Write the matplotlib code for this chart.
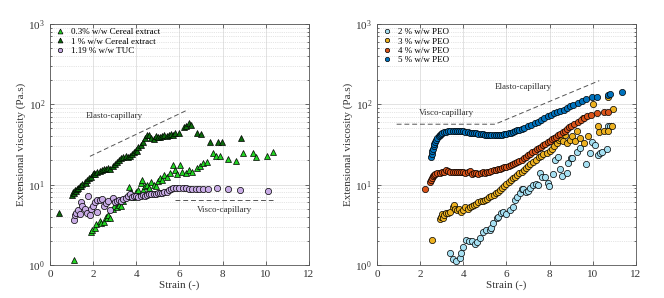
# coding: utf-8
import numpy as np
import matplotlib
matplotlib.use("Agg")
import matplotlib.pyplot as plt

plt.rcParams['font.family'] = ['Liberation Serif', 'DejaVu Serif']
plt.rcParams['mathtext.fontset'] = 'stix'

# ================= 数据 =================
# 左图: 0.3% w/w Cereal extract
cer03_x = [1.1, 1.9, 1.95, 2.1, 2.15, 2.3, 2.35, 2.5, 2.6, 2.65, 2.7, 2.8, 2.9, 2.95, 3.1, 3.2, 3.3,
           3.4, 3.5, 3.6, 3.65, 3.75, 3.85, 4.0, 4.1, 4.2, 4.25, 4.3, 4.4, 4.5, 4.6, 4.7, 4.8, 4.9,
           5.0, 5.1, 5.2, 5.3, 5.4, 5.55, 5.7, 5.8, 5.9, 6.02, 6.1, 6.3, 6.45, 6.56, 6.8, 6.95, 7.1,
           7.26, 7.57, 7.7, 7.88, 8.26, 8.62, 8.93, 9.4, 9.55, 10.06, 10.32]
cer03_y = [1.15, 2.6, 2.7, 2.9, 3.2, 3.5, 3.3, 3.4, 4.0, 3.8, 4.2, 3.9, 5.0, 5.4, 5.2, 5.6, 5.5,
           6.2, 7.0, 7.5, 9.3, 8.0, 7.0, 8.0, 8.5, 10.5, 11.4, 8.6, 9.5, 10.0, 9.0, 10.9, 10.0, 9.5,
           11.0, 12.0, 11.5, 13.0, 12.5, 14.0, 17.6, 15.0, 13.5, 17.6, 14.5, 14.0, 15.0, 14.5, 16.0, 17.0, 18.5,
           19.4, 24.5, 22.8, 22.5, 21.0, 19.7, 24.6, 25.0, 22.4, 22.8, 25.8]

# 左图: 1 % w/w Cereal extract
cer1_x = [0.4, 1.0, 1.05, 1.1, 1.15, 1.2, 1.25, 1.3, 1.4, 1.45, 1.5, 1.6, 1.65, 1.7, 1.8, 1.9, 2.0,
          2.05, 2.1, 2.2, 2.3, 2.4, 2.5, 2.6, 2.7, 2.8, 2.9, 3.0, 3.1, 3.2, 3.3, 3.4, 3.5, 3.6, 3.7,
          3.8, 3.9, 4.0, 4.05, 4.1, 4.2, 4.3, 4.4, 4.5, 4.6, 4.7, 4.8, 4.9, 5.0, 5.1, 5.2, 5.3, 5.4,
          5.5, 5.6, 5.7, 5.8, 6.0, 6.2, 6.3, 6.45, 6.55, 6.8, 7.0, 7.4, 7.8, 7.95, 8.85]
cer1_y = [4.5, 7.5, 8.0, 7.8, 8.5, 8.3, 8.8, 9.2, 9.7, 9.5, 10.3, 10.8, 10.6, 11.3, 12.0, 12.6, 13.5,
          13.9, 13.6, 14.2, 14.6, 15.0, 15.5, 15.8, 16.2, 15.8, 17.0, 18.0, 19.0, 20.0, 21.5, 22.0, 22.5, 22.0, 23.0,
          24.0, 25.5, 27.0, 26.0, 29.0, 31.0, 34.0, 38.0, 41.0, 42.0, 38.0, 37.0, 40.0, 39.0, 39.0, 40.0, 41.0, 40.0,
          41.0, 43.0, 42.0, 44.0, 44.0, 52.0, 53.0, 58.0, 55.0, 44.0, 43.0, 34.0, 34.0, 34.0, 38.0]

# 左图: 1.19 % w/w TUC
tuc_x = [1.1, 1.15, 1.2, 1.3, 1.4, 1.45, 1.5, 1.6, 1.7, 1.78, 1.85, 1.9, 2.0, 2.1, 2.16, 2.2, 2.3,
         2.4, 2.5, 2.6, 2.7, 2.8, 2.9, 3.0, 3.1, 3.2, 3.3, 3.4, 3.5, 3.6, 3.7, 3.8, 3.9, 4.0, 4.1,
         4.2, 4.3, 4.4, 4.5, 4.6, 4.7, 4.8, 4.9, 5.0, 5.1, 5.2, 5.3, 5.4, 5.5, 5.6, 5.7, 5.85, 6.0,
         6.15, 6.3, 6.45, 6.6, 6.75, 6.9, 7.1, 7.3, 7.72, 8.27, 8.8, 10.08]
tuc_y = [3.6, 4.2, 4.5, 4.8, 4.3, 6.1, 5.5, 5.0, 4.5, 7.2, 4.2, 5.0, 5.5, 6.0, 4.6, 6.5, 6.4,
         6.6, 5.5, 5.9, 6.2, 4.8, 6.8, 6.0, 6.3, 6.5, 6.2, 6.6, 6.8, 7.3, 7.6, 7.0, 7.2, 7.2, 7.0,
         7.3, 7.4, 7.3, 7.5, 7.6, 7.6, 7.7, 7.7, 7.8, 7.8, 7.9, 8.0, 8.2, 8.5, 8.8, 9.0, 9.1, 9.2,
         9.0, 9.0, 8.9, 8.9, 8.8, 8.8, 8.8, 8.9, 9.0, 8.8, 8.6, 8.3]

# 右图: 2 % w/w PEO
peo2_x = [3.38, 3.54, 3.66, 3.85, 3.87, 4.0, 4.12, 4.25, 4.39, 4.54, 4.65, 4.77, 4.93, 5.05, 5.24,
          5.3, 5.39, 5.55, 5.62, 5.75, 5.85, 6.0, 6.16, 6.3, 6.39, 6.5, 6.63, 6.7, 6.78, 6.9, 7.01,
          7.1, 7.24, 7.35, 7.48, 7.55, 7.63, 7.78, 7.94, 7.99, 8.17, 8.25, 8.4, 8.48, 8.56, 8.79,
          8.87, 8.99, 9.02, 9.25, 9.4, 9.68, 9.87, 9.95, 10.1, 10.26, 10.33, 10.41, 10.64, 10.72, 10.8]
peo2_y = [1.4, 1.18, 1.13, 1.21, 1.4, 1.69, 2.05, 2.0, 2.0, 1.8, 1.95, 2.15, 2.6, 2.75, 2.7,
          2.9, 3.3, 3.8, 4.0, 4.5, 4.6, 4.3, 4.8, 5.3, 6.4, 7.0, 7.8, 8.8, 8.8, 8.0, 8.4,
          9.0, 9.9, 10.2, 9.9, 13.9, 12.6, 12.6, 10.4, 9.6, 13.6, 20.0, 22.4, 15.7, 12.8, 13.9,
          18.5, 21.3, 21.5, 25.8, 28.5, 18.1, 24.6, 34.0, 31.0, 23.4, 25.0, 25.8, 27.6, 53.0, 53.0]

# 右图: 3 % w/w PEO
peo3_x = [2.53, 2.92, 2.95, 3.0, 3.05, 3.1, 3.2, 3.3, 3.4, 3.5, 3.55, 3.6, 3.7, 3.8, 3.9, 4.0,
          4.1, 4.2, 4.3, 4.4, 4.5, 4.6, 4.7, 4.8, 4.9, 5.0, 5.1, 5.2, 5.3, 5.4, 5.5, 5.6, 5.7, 5.8,
          5.9, 6.0, 6.1, 6.2, 6.3, 6.4, 6.5, 6.6, 6.7, 6.8, 6.9, 7.0, 7.1, 7.24, 7.35, 7.5, 7.6,
          7.7, 7.86, 8.0, 8.1, 8.2, 8.33, 8.45, 8.5, 8.6, 8.7, 8.8, 8.94, 9.05, 9.17, 9.27, 9.4,
          9.56, 9.6, 9.79, 10.0, 10.26, 10.3, 10.5, 10.7, 10.72, 10.87, 10.95]
peo3_y = [2.05, 3.7, 4.0, 4.3, 3.9, 4.2, 4.4, 4.5, 4.6, 5.2, 5.6, 5.0, 4.8, 5.0, 4.6, 4.8,
          5.2, 5.0, 5.3, 5.5, 5.6, 5.8, 6.0, 6.2, 6.3, 6.5, 6.7, 7.0, 7.2, 7.5, 7.8, 8.2, 8.6, 9.0,
          9.5, 10.2, 10.8, 11.3, 12.0, 12.6, 13.2, 13.8, 14.5, 15.2, 16.0, 17.0, 18.0, 19.4, 20.5, 22.0, 23.0,
          24.0, 24.6, 26.0, 28.0, 30.0, 33.0, 36.0, 38.0, 35.0, 42.0, 33.0, 36.0, 40.0, 35.0, 46.0, 38.0,
          67.0, 33.0, 40.0, 100.0, 54.0, 45.0, 46.0, 46.0, 125.0, 54.0, 87.0]

# 右图: 4 % w/w PEO
peo4_x = [2.22, 2.46, 2.5, 2.55, 2.6, 2.65, 2.7, 2.8, 2.9, 3.0, 3.1, 3.2, 3.3, 3.4, 3.5, 3.6,
          3.7, 3.8, 3.9, 4.0, 4.1, 4.2, 4.3, 4.4, 4.5, 4.6, 4.7, 4.8, 4.9, 5.0, 5.1, 5.2, 5.3, 5.4,
          5.5, 5.6, 5.7, 5.8, 5.9, 6.0, 6.1, 6.2, 6.3, 6.4, 6.5, 6.6, 6.7, 6.8, 6.9, 7.0, 7.1, 7.2,
          7.3, 7.4, 7.5, 7.6, 7.7, 7.8, 7.9, 8.0, 8.1, 8.2, 8.3, 8.4, 8.5, 8.6, 8.7, 8.8, 8.9, 9.0,
          9.15, 9.3, 9.45, 9.6, 9.75, 9.9, 10.2, 10.5, 10.72]
peo4_y = [8.8, 10.9, 11.5, 12.2, 12.8, 13.2, 13.5, 13.8, 14.0, 14.2, 14.5, 15.0, 14.8, 14.5, 14.3, 14.2,
          14.5, 14.3, 14.4, 14.2, 13.8, 14.3, 14.6, 13.5, 13.8, 14.0, 13.5, 13.8, 14.2, 14.0, 14.4, 14.5, 14.8, 15.0,
          15.2, 15.5, 15.8, 16.2, 16.5, 16.8, 17.2, 17.5, 18.0, 18.5, 19.0, 19.8, 20.5, 21.3, 22.2, 23.2, 24.2, 25.2,
          26.3, 27.4, 28.6, 29.8, 31.0, 32.3, 33.6, 35.0, 36.5, 38.0, 39.5, 41.0, 43.0, 45.0, 47.0, 49.0, 51.5, 54.0,
          57.0, 60.0, 63.0, 67.0, 71.0, 74.0, 78.0, 80.0, 80.0]

# 右图: 5 % w/w PEO
peo5_x = [2.5, 2.53, 2.56, 2.6, 2.63, 2.66, 2.7, 2.75, 2.8, 2.85, 2.9, 2.95, 3.0, 3.1, 3.2, 3.3,
          3.4, 3.5, 3.6, 3.7, 3.8, 3.9, 4.0, 4.1, 4.2, 4.3, 4.4, 4.5, 4.6, 4.7, 4.8, 4.9, 5.0, 5.1,
          5.2, 5.3, 5.4, 5.5, 5.6, 5.7, 5.8, 5.9, 6.0, 6.1, 6.2, 6.3, 6.4, 6.5, 6.6, 6.7, 6.8, 7.0,
          7.15, 7.3, 7.45, 7.6, 7.75, 7.9, 8.05, 8.2, 8.35, 8.5, 8.65, 8.8, 8.95, 9.1, 9.3, 9.5,
          9.7, 9.95, 10.2, 10.7, 10.8, 11.35]
peo5_y = [22, 24, 26, 28, 30, 32, 34, 36, 38, 40, 42, 43, 44, 45, 45.5, 46,
          46.5, 46, 46, 46.5, 47, 46.5, 46, 45.5, 45, 44.5, 44, 44, 43.5, 43, 43, 42.5, 42, 42,
          41.5, 41.5, 41.5, 41.5, 41.5, 41.5, 42, 42.5, 43, 43.5, 44.5, 45.5, 46.5, 47.5, 48, 49, 50, 53,
          55, 58, 61, 64, 67, 71, 74, 77, 80, 83, 86, 90, 94, 98, 103, 109,
          117, 122, 125, 129, 133, 141]

# 参考线（标度律示意）
left_elasto_x = [1.85, 6.41]
left_elasto_y = [22.5, 86]
left_visco_x = [5.79, 10.35]
left_visco_y = [6.45, 6.45]
right_guide_x = [0.91, 5.47, 10.3]
right_guide_y = [56.5, 56.5, 197]

# ================= 绘图 =================
fig = plt.figure(figsize=(6.64, 2.98), dpi=100)
ax1 = fig.add_axes([0.0753, 0.1107, 0.390, 0.809])
ax2 = fig.add_axes([0.5678, 0.1107, 0.390, 0.809])

mk = dict(linestyle='none', markeredgecolor='black', markeredgewidth=0.5)

ax1.plot(cer03_x, cer03_y, '^', color='#22D422', markersize=5, label='0.3% w/w Cereal extract', **mk)
ax1.plot(cer1_x, cer1_y, '^', color='#0B6A0B', markersize=5, label='1 % w/w Cereal extract', **mk)
ax1.plot(tuc_x, tuc_y, 'o', color='#C9ACE6', markersize=4.5, label='1.19 % w/w TUC', **mk)
ax1.plot(left_elasto_x, left_elasto_y, '--', color='#555555', linewidth=0.7, dashes=(5, 3))
ax1.plot(left_visco_x, left_visco_y, '--', color='#555555', linewidth=0.7, dashes=(5, 3))
ax1.text(2.97, 72, 'Elasto-capillary', fontsize=6.5, ha='center', va='center', color='#333333')
ax1.text(8.1, 4.85, 'Visco-capillary', fontsize=6.5, ha='center', va='center', color='#333333')

ax2.plot(peo2_x, peo2_y, 'o', color='#A6E0F2', markersize=4.5, label='2 % w/w PEO', **mk)
ax2.plot(peo3_x, peo3_y, 'o', color='#EDB120', markersize=4.5, label='3 % w/w PEO', **mk)
ax2.plot(peo4_x, peo4_y, 'o', color='#D95319', markersize=4.5, label='4 % w/w PEO', **mk)
ax2.plot(peo5_x, peo5_y, 'o', color='#0072BD', markersize=4.5, label='5 % w/w PEO', **mk)
ax2.plot(right_guide_x, right_guide_y, '--', color='#555555', linewidth=0.7, dashes=(5, 3))
ax2.text(3.2, 77, 'Visco-capillary', fontsize=6.5, ha='center', va='center', color='#333333')
ax2.text(6.8, 163, 'Elasto-capillary', fontsize=6.5, ha='center', va='center', color='#333333')

for ax in (ax1, ax2):
    ax.set_yscale('log')
    ax.set_xlim(0, 12)
    ax.set_ylim(1, 1000)
    ax.set_xticks(np.arange(0, 13, 2))
    ax.grid(True, which='major', color='#dddddd', linewidth=0.6, linestyle='-')
    ax.grid(True, which='minor', axis='y', color='#cccccc', linewidth=0.5, linestyle=':')
    ax.set_axisbelow(True)
    ax.tick_params(which='both', direction='in', top=True, right=True,
                   labelsize=8, colors='#333333', width=0.5)
    ax.tick_params(which='major', length=3)
    ax.tick_params(which='minor', length=1.5)
    for s in ax.spines.values():
        s.set_color('#555555')
        s.set_linewidth(0.6)
    ax.set_xlabel('Strain (-)', fontsize=8, color='#333333', labelpad=1)
    ax.set_ylabel('Extensional viscosity (Pa.s)', fontsize=8, color='#333333', labelpad=2)
    ax.legend(loc='upper left', fontsize=6.5, frameon=False, markerscale=0.7,
              handlelength=1.4, handletextpad=0.5, labelspacing=0.1,
              borderaxespad=0.15, borderpad=0.3, numpoints=1)

fig.savefig('out.png', dpi=100)
